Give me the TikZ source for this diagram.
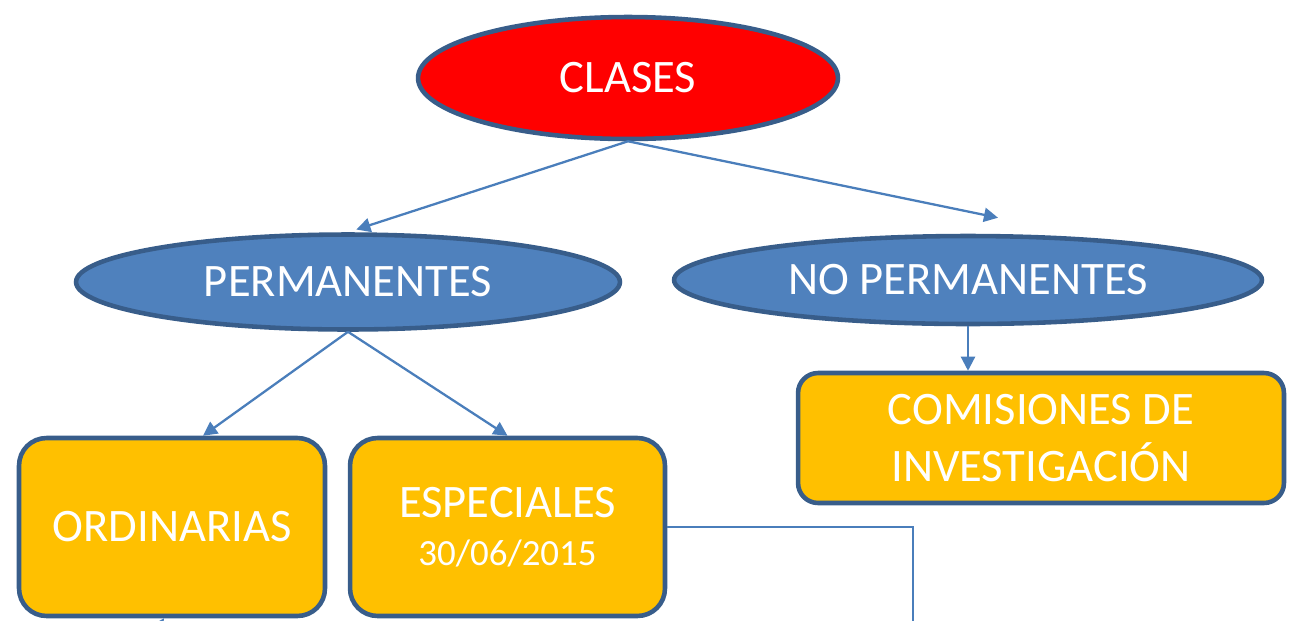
\documentclass[tikz,border=0pt]{standalone}
\usepackage{fontspec}
\setmainfont{Carlito}
\usetikzlibrary{shapes,arrows.meta,calc}
\definecolor{ORed}{HTML}{FF0000}
\definecolor{OBlue}{HTML}{4F81BD}
\definecolor{OEdge}{HTML}{385D8A}
\definecolor{OGold}{HTML}{FFC000}
\definecolor{OLine}{HTML}{4A7EBB}
\tikzset{
    oval/.style = {draw=OEdge, ellipse, line width=2.6pt, inner sep=0pt,
        text=white, font=\fontsize{26.5}{32}\selectfont},
    block/.style = {draw=OEdge, rectangle, rounded corners=0.55cm,
        fill=OGold, line width=2.6pt, inner sep=0pt, align=center,
        text=white, font=\fontsize{26.5}{32.5}\selectfont},
    conn/.style = {draw=OLine, line width=1.3pt, -{Triangle[length=8pt,width=8pt]}}
}
\begin{document}
\begin{tikzpicture}[x=0.02cm, y=-0.02cm]
        \clip (0,0) rectangle (1291,620);
        \node [oval, fill=ORed, minimum width=8.4cm, minimum height=2.44cm] (clases) at (628,78) {CLASES};
        \node [oval, fill=OBlue, minimum width=10.88cm, minimum height=1.9cm] (perm) at (348,282) {PERMANENTES};
        \node [oval, fill=OBlue, minimum width=11.76cm, minimum height=1.76cm] (noperm) at (968,280) {NO PERMANENTES};
        \node [block, rounded corners=0.4cm, minimum width=9.72cm, minimum height=2.6cm] (com) at (1041,438) {COMISIONES DE\\INVESTIGACIÓN};
        \node [block, minimum width=6.12cm, minimum height=3.56cm] (ord) at (172,527) {ORDINARIAS};
        \node [block, minimum width=6.3cm, minimum height=3.56cm] (esp) at (507.5,527) {ESPECIALES\\[-5pt]{\fontsize{21}{26}\selectfont 30/06/2015}};
        \coordinate (down) at (913,680);
        \coordinate (up) at (110,700);
        % connectors
        \draw [conn, shorten >=5pt] (clases.south) -- (perm.north);
        \draw [conn] (clases.south) -- ([shift={(30,-16)}]noperm.north);
        \draw [conn] (perm.south) -- ([shift={(31,0)}]ord.north);
        \draw [conn] (perm.south) -- (esp.north);
        \draw [conn] (noperm.south) -- (noperm.south |- com.north);
        \draw [draw=OLine, line width=1.3pt] (esp.east) -| (down);
        \draw [conn] (up) -- ([shift={(-8,0)}]ord.south);
\end{tikzpicture}
\end{document}
